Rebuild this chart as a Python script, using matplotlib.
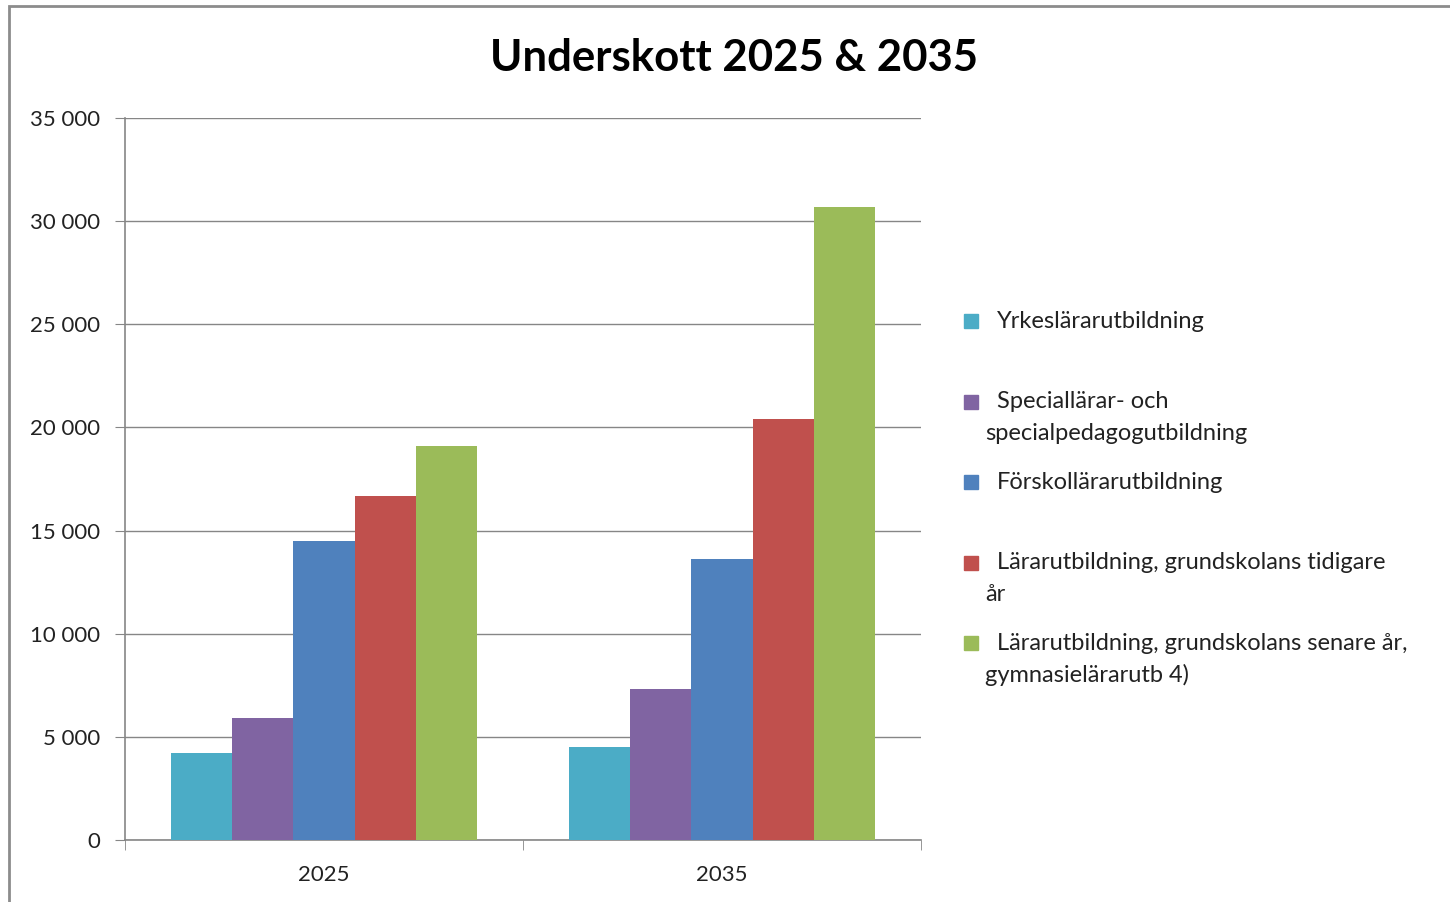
import matplotlib
matplotlib.use("Agg")
import matplotlib.pyplot as plt
from matplotlib.patches import Rectangle
from matplotlib.ticker import FuncFormatter, MultipleLocator
import numpy as np

plt.rcParams["font.family"] = ["Lato", "DejaVu Sans"]

years = ["2025", "2035"]
series = [
    "Yrkeslärarutbildning",
    "Speciallärar- och\nspecialpedagogutbildning",
    "Förskollärarutbildning",
    "Lärarutbildning, grundskolans tidigare\når",
    "Lärarutbildning, grundskolans senare år,\ngymnasielärarutb 4)",
]
values = [
    [4200, 4500],
    [5900, 7300],
    [14500, 13600],
    [16700, 20400],
    [19100, 30700],
]
colors = ["#4BACC6", "#8064A2", "#4F81BD", "#C0504D", "#9BBB59"]

W, H = 1450, 902
fig = plt.figure(figsize=(W / 100, H / 100), dpi=100)

# outer chart frame (gray), cut off at right/bottom like the screenshot
fig.patches.append(Rectangle((9 / W, -0.05), 1.2, 1 - 6 / H + 0.05,
                             transform=fig.transFigure, fill=False,
                             edgecolor="#8c8c8c", linewidth=2))

ax = fig.add_axes([125 / W, 62 / H, 796 / W, 722 / H])

x = np.arange(len(years))
w = 0.154
for i, (name, vals) in enumerate(zip(series, values)):
    ax.bar(x + (i - 2) * w, vals, width=w, color=colors[i], zorder=3)

ax.set_xlim(-0.5, 1.5)
ax.set_ylim(0, 35000)
ax.yaxis.set_major_locator(MultipleLocator(5000))
ax.yaxis.set_major_formatter(FuncFormatter(lambda v, p: f"{int(v):,}".replace(",", " ")))
ax.grid(axis="y", color="#868686", linewidth=1, zorder=0)

ax.set_xticks(x)
ax.set_xticklabels(years)
ax.set_xticks([-0.5, 0.5, 1.5], minor=True)
ax.tick_params(axis="x", which="major", length=0, pad=18, labelsize=16, labelcolor="#222222")
ax.tick_params(axis="x", which="minor", length=7, color="#868686", direction="out")
ax.tick_params(axis="y", length=7, color="#868686", direction="out", pad=11,
               labelsize=16, labelcolor="#222222")

for s in ["top", "right"]:
    ax.spines[s].set_visible(False)
for s in ["left", "bottom"]:
    ax.spines[s].set_color("#868686")
    ax.spines[s].set_linewidth(1.2)

fig.text(734 / W, 1 - 58 / H, "Underskott 2025 & 2035", ha="center", va="center",
         fontsize=31.5, fontweight="bold", color="black")

# legend, drawn by hand to get Excel-like hanging indent
for i, name in enumerate(series):
    yc = 321 + i * 80.5
    fig.patches.append(Rectangle((964 / W, 1 - (yc + 7) / H), 14 / W, 14 / H,
                                 transform=fig.transFigure, color=colors[i]))
    lines = name.split("\n")
    fig.text(997 / W, 1 - yc / H, lines[0], ha="left", va="center",
             fontsize=17, color="#222222")
    for j, extra in enumerate(lines[1:]):
        fig.text(985 / W, 1 - (yc + 32 * (j + 1)) / H, extra, ha="left", va="center",
                 fontsize=17, color="#222222")

fig.savefig("out.png", dpi=100)
